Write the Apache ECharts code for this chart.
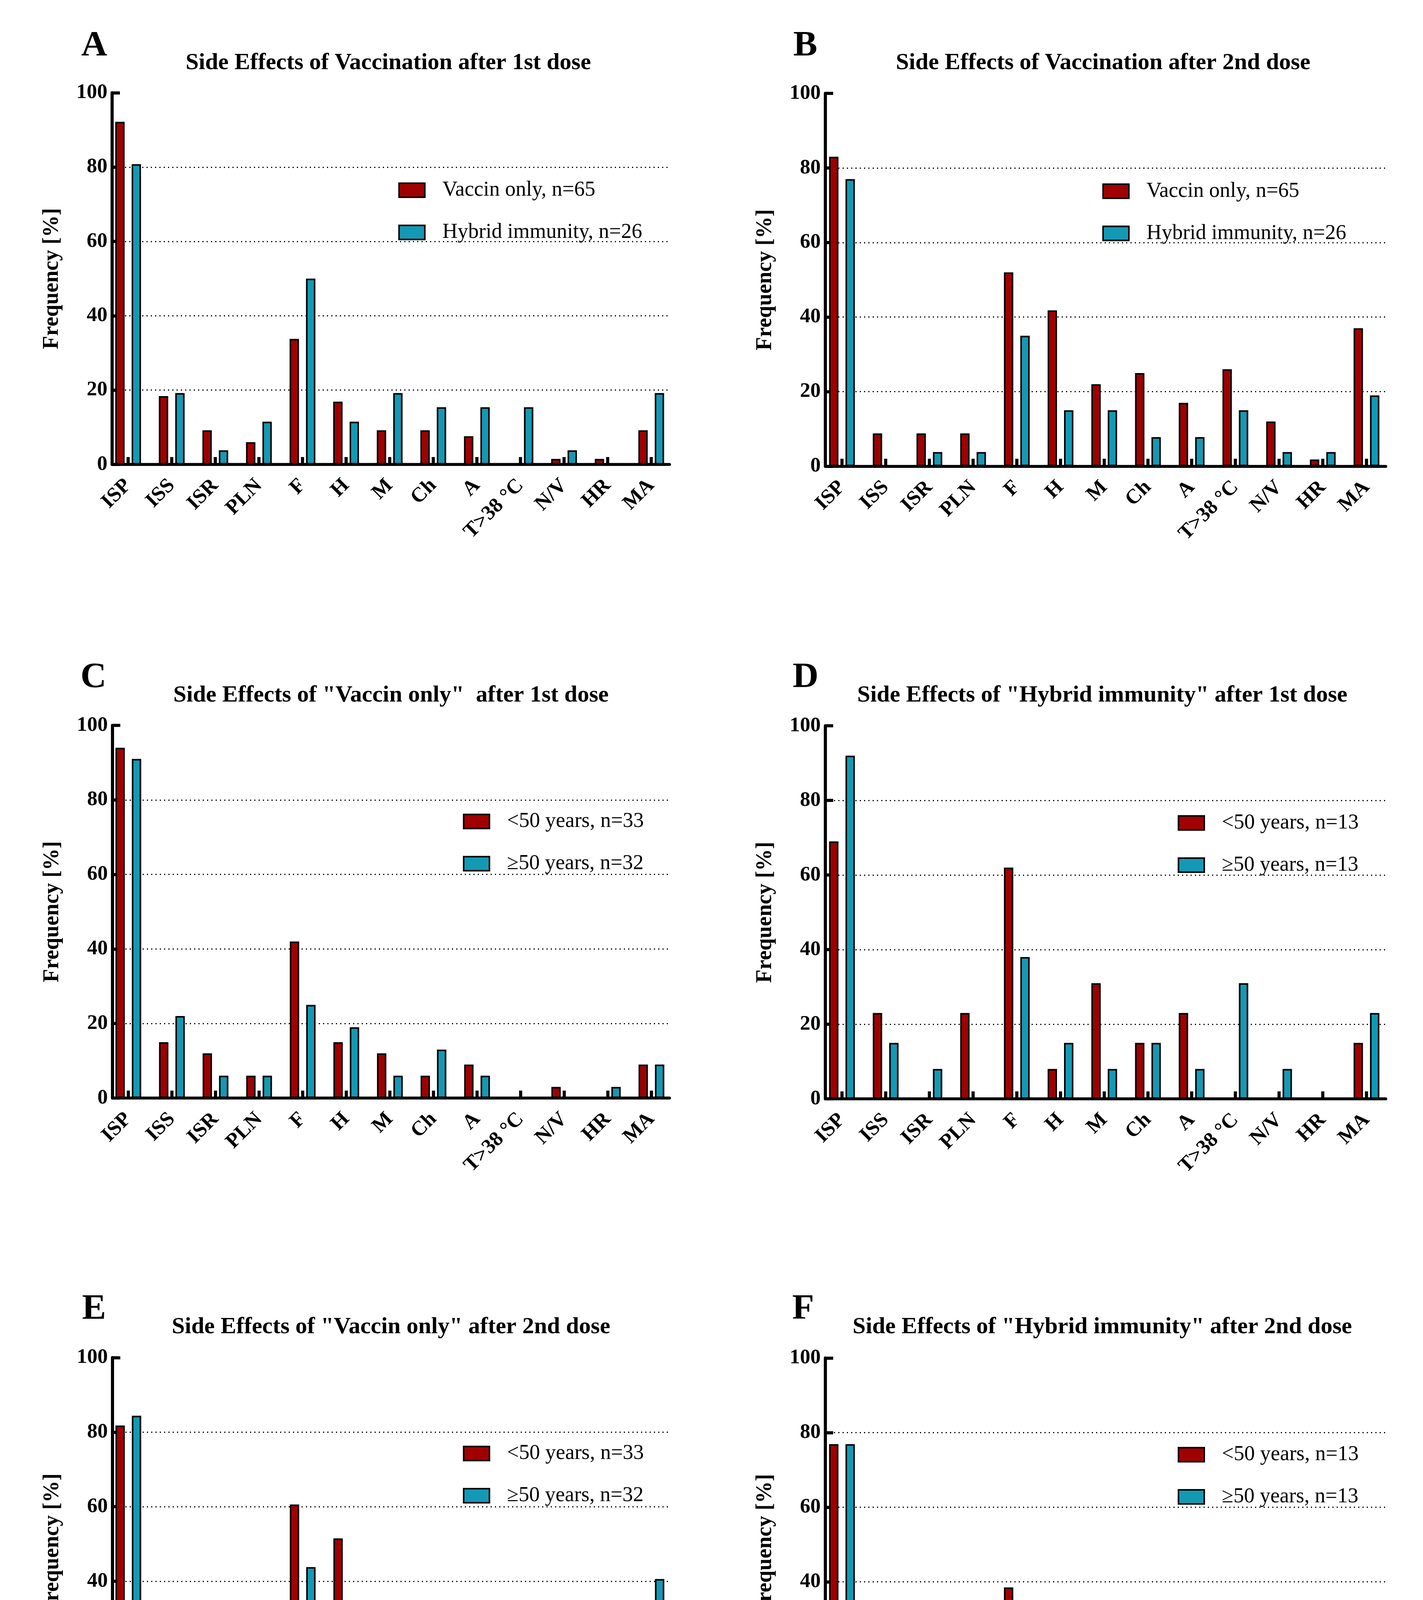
<!DOCTYPE html>
<html>
<head>
<meta charset="utf-8">
<script src="https://cdn.jsdelivr.net/npm/echarts@6/dist/echarts.min.js"></script>
<style>
html,body{margin:0;padding:0;background:#ffffff;}
#chart{width:3643px;height:4634px;}
</style>
</head>
<body>
<div id="chart"></div>
<script>
// ---------- data ----------
const categories = ['ISP','ISS','ISR','PLN','F','H','M','Ch','A','T>38 °C','N/V','HR','MA'];
const markerValues = [2,2,2,2,2,2,2,2,2,2,2,2,2];

const aRed  = [92.2, 18.4, 9.2, 6.0, 33.8, 16.9, 9.2, 9.2, 7.6, 0, 1.5, 1.5, 9.2];
const aCyan = [80.8, 19.2, 3.8, 11.5, 50.0, 11.5, 19.2, 15.4, 15.4, 15.4, 3.8, 0, 19.2];
const bRed  = [83.0, 8.8, 8.8, 8.8, 52.0, 41.8, 22.0, 25.0, 17.0, 26.0, 12.0, 1.8, 37.0];
const bCyan = [77.0, 0, 3.8, 3.8, 35.0, 15.0, 15.0, 7.8, 7.8, 15.0, 3.8, 3.8, 19.0];
const cRed  = [94, 15, 12, 6, 42, 15, 12, 6, 9, 0, 3, 0, 9];
const cCyan = [91, 22, 6, 6, 25, 19, 6, 13, 6, 0, 0, 3, 9];
const dRed  = [69, 23, 0, 23, 62, 8, 31, 15, 23, 0, 0, 0, 15];
const dCyan = [92, 15, 8, 0, 38, 15, 8, 15, 8, 31, 8, 0, 23];
const eRed  = [81.8, 3.0, 12.1, 12.1, 60.6, 51.5, 27.3, 21.2, 21.2, 33.3, 18.2, 0, 33.3];
const eCyan = [84.4, 15.6, 6.3, 6.3, 43.8, 31.3, 15.6, 28.1, 12.5, 18.8, 6.3, 3.1, 40.6];
const fRed  = [76.9, 0, 0, 7.7, 38.5, 15.4, 23.1, 7.7, 7.7, 7.7, 0, 0, 15.4];
const fCyan = [76.9, 0, 7.7, 0, 30.8, 15.4, 7.7, 7.7, 7.7, 23.1, 7.7, 7.7, 23.1];

const legendAB = ['Vaccin only, n=65', 'Hybrid immunity, n=26'];
const legendCE = ['<50 years, n=33', '\u226550 years, n=32'];
const legendDF = ['<50 years, n=13', '\u226550 years, n=13'];

const titleA = 'Side Effects of Vaccination after 1st dose';
const titleB = 'Side Effects of Vaccination after 2nd dose';
const titleC = 'Side Effects of "Vaccin only"  after 1st dose';
const titleD = 'Side Effects of "Hybrid immunity" after 1st dose';
const titleE = 'Side Effects of "Vaccin only" after 2nd dose';
const titleF = 'Side Effects of "Hybrid immunity" after 2nd dose';
const yAxisName = 'Frequency [%]';

// ---------- layout & style ----------
const RED = '#A00000';
const CYAN = '#1399B4';
const FONT = 'Liberation Serif';

const panels = [
  {letter:'A', title:titleA, red:aRed, cyan:aCyan, names:legendAB,
   axisX:287, xEnd:1714, top:237.5, bottom:1189, c0:328, band:111.6,
   legX:1019.6, legY:460, titleX:994, titleY:161, letterX:208, letterY:118},
  {letter:'B', title:titleB, red:bRed, cyan:bCyan, names:legendAB,
   axisX:2113, xEnd:3547.7, top:239, bottom:1193.5, c0:2155.5, band:111.9,
   legX:2822, legY:462.6, titleX:2824, titleY:161, letterX:2031, letterY:118},
  {letter:'C', title:titleC, red:cRed, cyan:cCyan, names:legendCE,
   axisX:288, xEnd:1714, top:1857, bottom:2811, c0:328.5, band:111.6,
   legX:1185, legY:2076, titleX:1001, titleY:1780, letterX:206, letterY:1735},
  {letter:'D', title:titleD, red:dRed, cyan:dCyan, names:legendDF,
   axisX:2113, xEnd:3547.7, top:1858, bottom:2813, c0:2155.5, band:111.9,
   legX:3015, legY:2079.7, titleX:2822, titleY:1780, letterX:2029, letterY:1735},
  {letter:'E', title:titleE, red:eRed, cyan:eCyan, names:legendCE,
   axisX:288, xEnd:1714, top:3475.5, bottom:4429.5, c0:328.5, band:111.6,
   legX:1185, legY:3694, titleX:1001, titleY:3397, letterX:210, letterY:3352},
  {letter:'F', title:titleF, red:fRed, cyan:fCyan, names:legendDF,
   axisX:2113, xEnd:3547.7, top:3476.5, bottom:4431.5, c0:2155.5, band:111.9,
   legX:3015, legY:3697, titleX:2822, titleY:3397, letterX:2028, letterY:3352}
];

const grid = [], xAxis = [], yAxis = [], series = [], legend = [], graphic = [];
const GAP = '21%';

panels.forEach(function (p) {
  const gi = grid.length;
  const h = p.bottom - p.top;
  // axis frame grid (y axis, dotted grid lines, x axis line)
  grid.push({left:p.axisX, top:p.top, width:p.xEnd - p.axisX, height:h,
             containLabel:false, outerBoundsMode:'none'});
  // bar grid (category bands)
  grid.push({left:p.c0 - p.band / 2, top:p.top, width:p.band * 13, height:h,
             containLabel:false, outerBoundsMode:'none'});

  xAxis.push({gridIndex:gi, type:'category', data:categories,
    axisLine:{show:true, lineStyle:{color:'#000', width:7.5}},
    axisTick:{show:false}, axisLabel:{show:false}, splitLine:{show:false}});
  xAxis.push({gridIndex:gi + 1, type:'category', data:categories,
    axisLine:{show:false}, axisTick:{show:false}, splitLine:{show:false},
    axisLabel:{show:true, interval:0, rotate:45, margin:46, color:'#000',
               fontFamily:FONT, fontWeight:'bold', fontSize:53}});

  yAxis.push({gridIndex:gi, type:'value', min:0, max:100, interval:20,
    name:yAxisName, nameLocation:'middle', nameGap:125,
    nameTextStyle:{fontFamily:FONT, fontWeight:'bold', fontSize:56, color:'#000'},
    axisLine:{show:true, lineStyle:{color:'#000', width:8}},
    axisTick:{show:true, inside:true, length:20, lineStyle:{color:'#000', width:8}},
    axisLabel:{show:true, margin:12, color:'#000', fontFamily:FONT, fontWeight:'bold', fontSize:53},
    splitLine:{show:true, showMinLine:false, showMaxLine:false,
               lineStyle:{color:'#000', width:3, type:[3, 8]}}});
  yAxis.push({gridIndex:gi + 1, type:'value', min:0, max:100, show:false,
    splitLine:{show:false}});

  series.push({type:'bar', name:p.names[0], xAxisIndex:gi + 1, yAxisIndex:gi + 1,
    data:p.red, barWidth:24, barGap:GAP,
    itemStyle:{color:RED, borderColor:'#000', borderWidth:4}});
  series.push({type:'bar', name:'marker', xAxisIndex:gi + 1, yAxisIndex:gi + 1,
    data:markerValues, barWidth:8, barGap:GAP,
    itemStyle:{color:'#000'}});
  // empty spacer series so that the gap before the cyan bar matches the reference
  series.push({type:'bar', name:'spacer', xAxisIndex:gi + 1, yAxisIndex:gi + 1,
    data:[], barWidth:2.7, barGap:GAP, silent:true});
  series.push({type:'bar', name:p.names[1], xAxisIndex:gi + 1, yAxisIndex:gi + 1,
    data:p.cyan, barWidth:24, barGap:GAP,
    itemStyle:{color:CYAN, borderColor:'#000', borderWidth:4}});

  legend.push({data:p.names, orient:'vertical', left:p.legX, top:p.legY,
    padding:0, itemGap:54, itemWidth:66, itemHeight:36, icon:'rect',
    selectedMode:false,
    itemStyle:{borderColor:'#000', borderWidth:4},
    textStyle:{fontFamily:FONT, fontSize:54, color:'#000', lineHeight:36,
               padding:[0, 0, 0, 40]}});

  graphic.push({type:'text', x:p.titleX, y:p.titleY,
    style:{text:p.title, fontFamily:FONT, fontWeight:'bold', fontSize:60, fill:'#000',
           align:'center', verticalAlign:'middle', textAlign:'center', textVerticalAlign:'middle'}});
  graphic.push({type:'text', x:p.letterX, y:p.letterY,
    style:{text:p.letter, fontFamily:FONT, fontWeight:'bold', fontSize:92, fill:'#000',
           align:'left', verticalAlign:'middle', textAlign:'left', textVerticalAlign:'middle'}});
});

const chart = echarts.init(document.getElementById('chart'), null, {renderer:'canvas', width:3643, height:4634});
chart.setOption({
  backgroundColor:'#ffffff',
  animation:false,
  grid:grid, xAxis:xAxis, yAxis:yAxis, series:series, legend:legend, graphic:graphic
});
</script>
</body>
</html>
